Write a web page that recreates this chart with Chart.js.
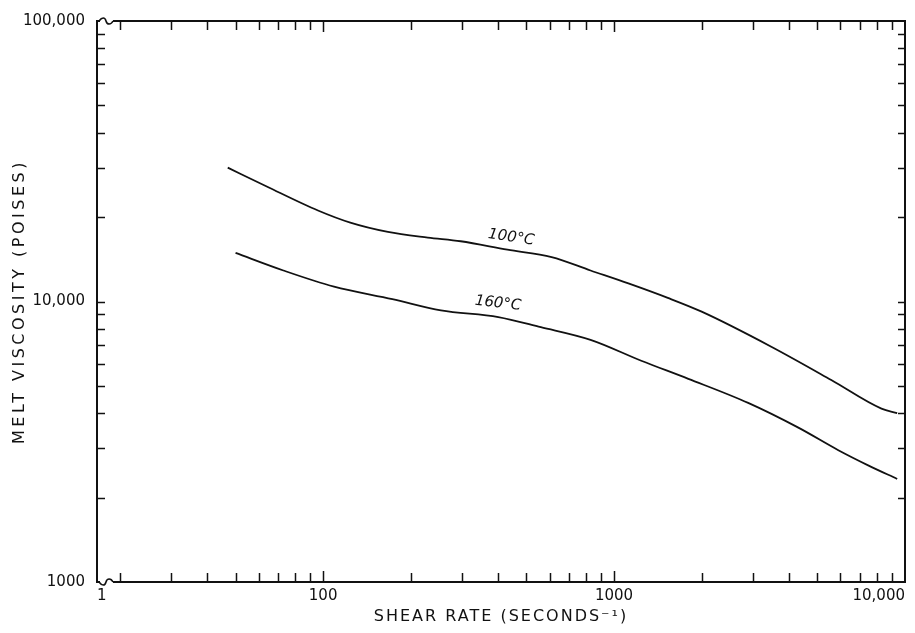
<!DOCTYPE html>
<html>
<head>
<meta charset="utf-8">
<script src="https://cdn.jsdelivr.net/npm/chart.js@4/dist/chart.umd.min.js"></script>
<style>
  html, body { margin: 0; padding: 0; background: #fff; }
  #wrap { width: 915px; height: 633px; }
</style>
</head>
<body>
<div id="wrap"><canvas id="myChart" width="915" height="633"></canvas></div>
<script>
// axis ranges (x has a break at the left end, labelled "1")
const X_MIN = 16.7;
const X_MAX = 10000;
const Y_MIN = 1000;
const Y_MAX = 100000;

// 100 C curve
const shear100 = [47, 64, 96, 124, 167, 229, 297, 430, 610, 830, 1120, 1530, 2000, 3470, 5580, 8300, 9400];
const visc100 = [30000, 25700, 21100, 19100, 17700, 16900, 16400, 15300, 14400, 12900, 11600, 10300, 9200, 6900, 5250, 4150, 4000];

// 160 C curve
const shear160 = [50, 73, 109, 173, 254, 400, 560, 830, 1240, 1800, 2890, 4300, 5900, 7500, 9400];
const visc160 = [14900, 12900, 11300, 10200, 9300, 8800, 8100, 7300, 6150, 5300, 4350, 3550, 2950, 2600, 2330];

// curve labels and where they sit (data coords)
const curveNames = ['100\u00B0C', '160\u00B0C'];
const curveLabelX = [443, 399];
const curveLabelY = [16900, 9840];

// ticks
const xTicks = [X_MIN, 20, 30, 40, 50, 60, 70, 80, 90, 100, 200, 300, 400, 500, 600, 700, 800, 900,
  1000, 2000, 3000, 4000, 5000, 6000, 7000, 8000, 9000, 10000];
const xLabelValues = [X_MIN, 100, 1000, 10000];
const xLabelText = ['1', '100', '1000', '10,000'];

const yTicks = [1000, 2000, 3000, 4000, 5000, 6000, 7000, 8000, 9000,
  10000, 20000, 30000, 40000, 50000, 60000, 70000, 80000, 90000, 100000];
const yLabelValues = [1000, 10000, 100000];
const yLabelText = ['1000', '10,000', '100,000'];

const INK = '#111';
Chart.defaults.font.family = "'DejaVu Sans', sans-serif";
Chart.defaults.color = INK;

// wider spacing for the axis titles
const origDrawTitle = Chart.Scale.prototype.drawTitle;
Chart.Scale.prototype.drawTitle = function () {
  this.ctx.save();
  this.ctx.letterSpacing = this.axis === 'y' ? '3.5px' : '2px';
  origDrawTitle.call(this);
  this.ctx.restore();
};

function toPoints(xs, ys) {
  return xs.map((v, i) => ({x: v, y: ys[i]}));
}

const frame = {
  id: 'frame',
  afterDatasetsDraw(chart) {
    const {ctx, scales: {x, y}} = chart;
    ctx.save();
    ctx.fillStyle = INK;
    ctx.textAlign = 'center';
    ctx.textBaseline = 'middle';
    ctx.font = "italic 15px 'DejaVu Sans'";
    const angles = [0.15, 0.11];
    curveNames.forEach((name, i) => {
      ctx.save();
      ctx.translate(x.getPixelForValue(curveLabelX[i]), y.getPixelForValue(curveLabelY[i]));
      ctx.rotate(angles[i]);
      ctx.fillText(name, 0, 0);
      ctx.restore();
    });
    ctx.restore();
  },
  afterDraw(chart) {
    const {ctx, chartArea: a, scales: {x, y}} = chart;
    ctx.save();
    ctx.strokeStyle = INK;
    ctx.lineWidth = 2;
    ctx.strokeRect(a.left, a.top, a.right - a.left, a.bottom - a.top);

    ctx.lineWidth = 1.5;
    ctx.beginPath();
    x.ticks.forEach(t => {
      if (t.value === X_MIN || t.value === X_MAX) return;
      const px = Math.round(x.getPixelForValue(t.value)) + 0.5;
      const len = xLabelValues.includes(t.value) ? 11 : 9;
      ctx.moveTo(px, a.bottom); ctx.lineTo(px, a.bottom - len);
      ctx.moveTo(px, a.top); ctx.lineTo(px, a.top + len);
    });
    y.ticks.forEach(t => {
      if (t.value === Y_MIN || t.value === Y_MAX) return;
      const py = Math.round(y.getPixelForValue(t.value)) + 0.5;
      ctx.moveTo(a.left, py); ctx.lineTo(a.left + 8, py);
      ctx.moveTo(a.right, py); ctx.lineTo(a.right - 7, py);
    });
    ctx.stroke();

    // axis break marks near the left end
    [a.bottom, a.top].forEach((base, k) => {
      const d = k === 0 ? 1 : -1;
      ctx.fillStyle = '#fff';
      ctx.fillRect(a.left + 3, base - 2, 13, 4);
      ctx.beginPath();
      ctx.lineWidth = 1.6;
      ctx.moveTo(a.left + 2, base);
      ctx.bezierCurveTo(a.left + 5, base + 4 * d, a.left + 8, base + 4 * d, a.left + 9, base);
      ctx.bezierCurveTo(a.left + 10, base - 4 * d, a.left + 14, base - 4 * d, a.left + 16, base);
      ctx.stroke();
    });
    ctx.restore();
  }
};

const ctx = document.getElementById('myChart').getContext('2d');
const chart = new Chart(ctx, {
  type: 'scatter',
  data: {
    datasets: [{
      label: '100\u00B0C',
      data: toPoints(shear100, visc100),
      showLine: true,
      borderColor: INK,
      borderWidth: 1.8,
      pointRadius: 0,
      cubicInterpolationMode: 'monotone',
      fill: false
    },
    {
      label: '160\u00B0C',
      data: toPoints(shear160, visc160),
      showLine: true,
      borderColor: INK,
      borderWidth: 1.8,
      pointRadius: 0,
      cubicInterpolationMode: 'monotone',
      fill: false
    }]
  },
  options: {
    animation: false,
    responsive: false,
    events: [],
    layout: {padding: {left: 0, top: 20, right: 10, bottom: 0}},
    plugins: {legend: {display: false}, tooltip: {enabled: false}},
    scales: {
      x: {
        type: 'logarithmic',
        min: X_MIN,
        max: X_MAX,
        afterBuildTicks: s => { s.ticks = xTicks.map(v => ({value: v})); },
        afterFit: s => { s.height = 51; },
        grid: {display: false, drawTicks: false, tickLength: 0},
        border: {display: false},
        ticks: {
          autoSkip: false,
          maxRotation: 0,
          align: 'inner',
          padding: 5,
          font: {size: 15},
          callback: v => {
            const i = xLabelValues.indexOf(v);
            return i < 0 ? '' : xLabelText[i];
          }
        },
        title: {
          display: true,
          text: 'SHEAR RATE (SECONDS\u207B\u00B9)',
          font: {size: 16},
          padding: {top: 0, bottom: 7}
        }
      },
      y: {
        type: 'logarithmic',
        min: Y_MIN,
        max: Y_MAX,
        afterBuildTicks: s => { s.ticks = yTicks.map(v => ({value: v})); },
        afterFit: s => { s.width = 97; },
        grid: {display: false, drawTicks: false, tickLength: 0},
        border: {display: false},
        ticks: {
          autoSkip: false,
          padding: 12,
          font: {size: 15},
          callback: v => {
            const i = yLabelValues.indexOf(v);
            return i < 0 ? '' : yLabelText[i];
          }
        },
        title: {
          display: true,
          text: 'MELT VISCOSITY (POISES)',
          font: {size: 16},
          padding: {top: 10, bottom: 0}
        }
      }
    }
  },
  plugins: [frame]
});
</script>
</body>
</html>
